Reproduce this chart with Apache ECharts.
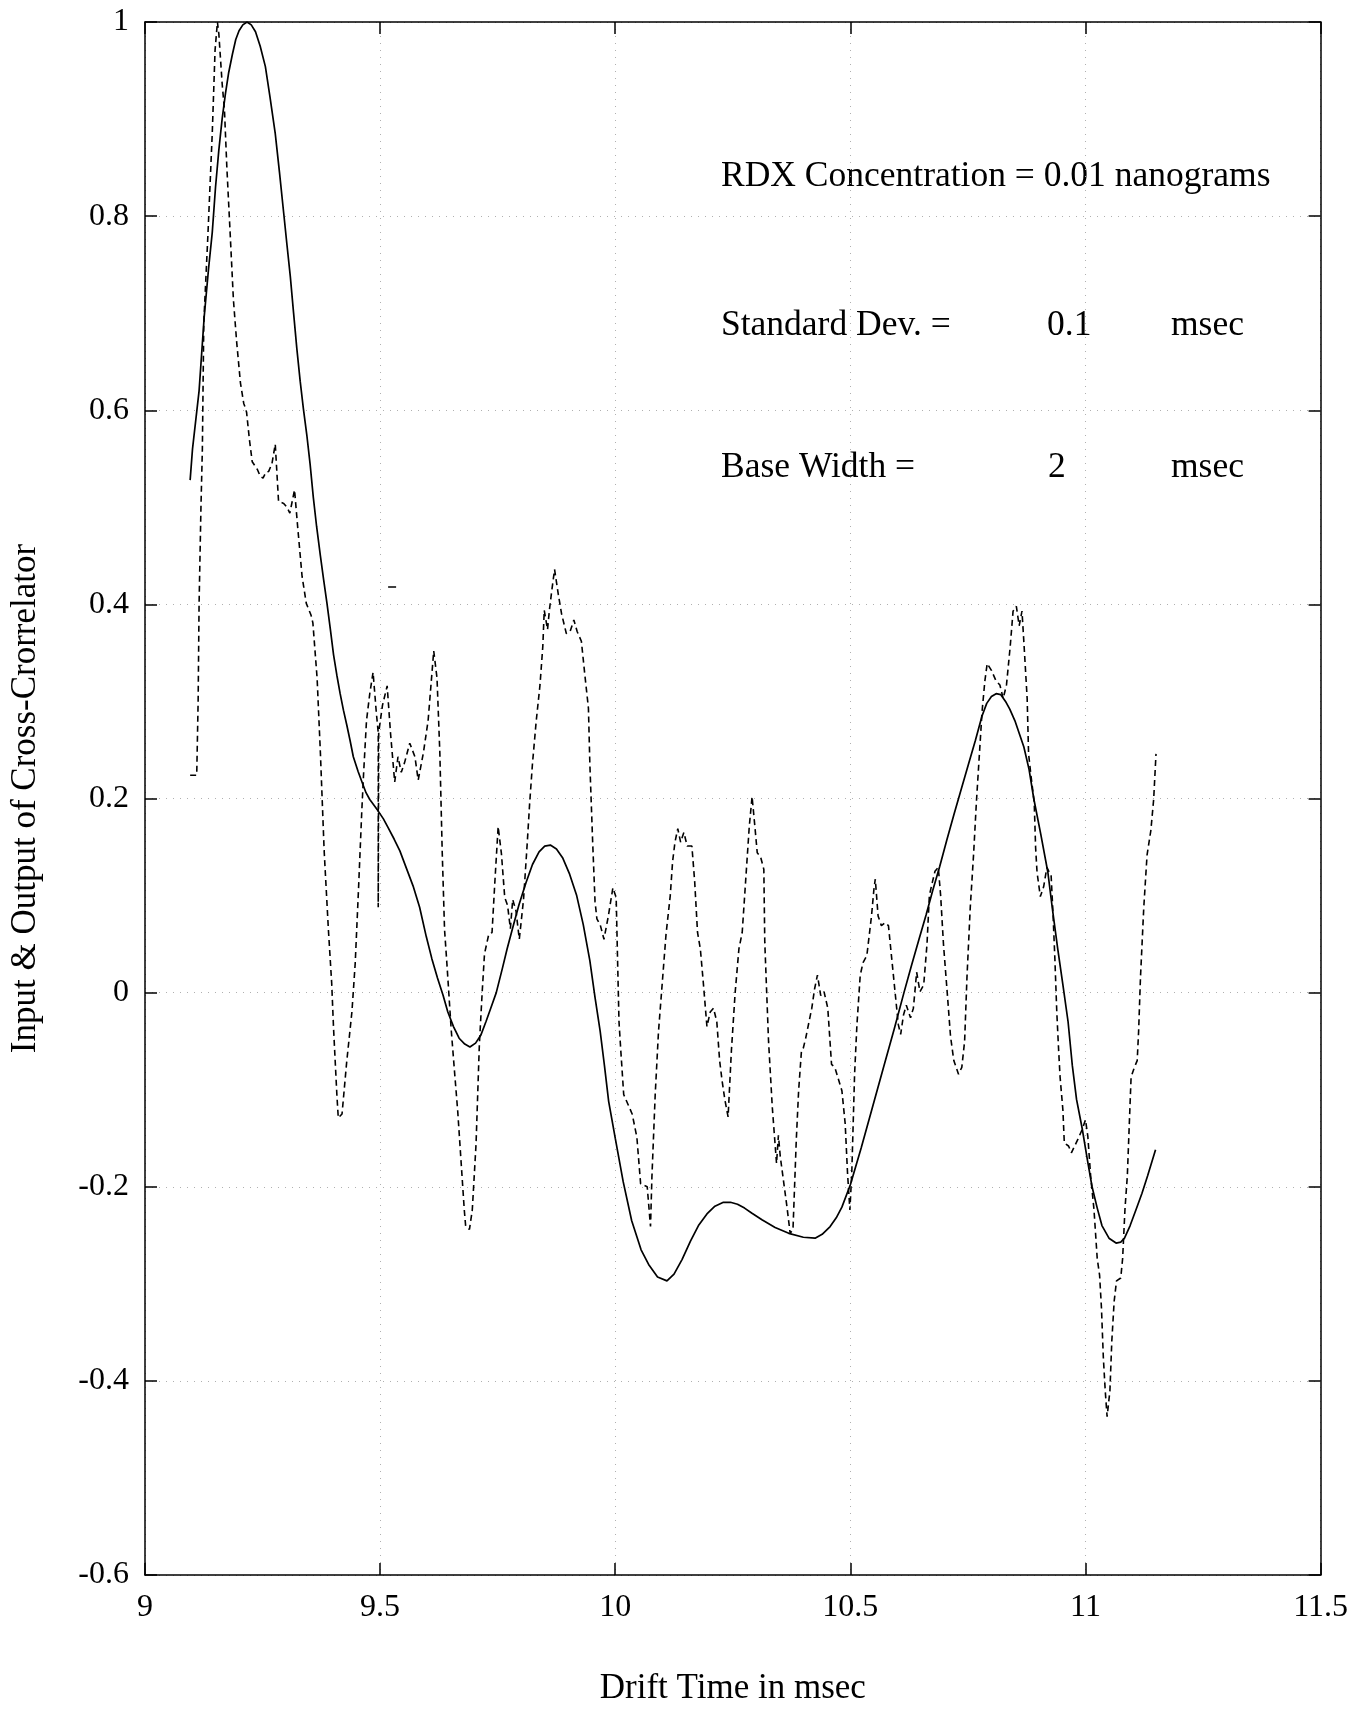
<!DOCTYPE html>
<html>
<head>
<meta charset="utf-8">
<script src="https://cdn.jsdelivr.net/npm/echarts@6/dist/echarts.min.js"></script>
<style>
html,body{margin:0;padding:0;background:#fff;}
#chart{width:1351px;height:1711px;}
</style>
</head>
<body>
<div id="chart"></div>
<script>
// ---- Data ----
const xTickLabels = ['9', '9.5', '10', '10.5', '11', '11.5'];
const yTickLabels = ['-0.6', '-0.4', '-0.2', '0', '0.2', '0.4', '0.6', '0.8', '1'];

// Output of cross-correlator (solid line): [drift time msec, value]
const outputSolid = [
[9.096,0.528],[9.101,0.56],[9.115,0.62],[9.126,0.697],[9.135,0.745],[9.143,0.783],[9.15,0.83],[9.157,0.868],
[9.164,0.9],[9.171,0.926],[9.178,0.948],[9.186,0.967],[9.193,0.982],[9.2,0.991],[9.208,0.997],[9.217,1.0],
[9.226,0.997],[9.235,0.99],[9.245,0.975],[9.256,0.954],[9.266,0.922],[9.277,0.885],[9.286,0.845],[9.295,0.803],
[9.302,0.77],[9.309,0.738],[9.316,0.70],[9.323,0.663],[9.33,0.63],[9.337,0.601],[9.344,0.575],[9.351,0.545],
[9.358,0.51],[9.365,0.48],[9.373,0.45],[9.38,0.425],[9.387,0.401],[9.394,0.375],[9.401,0.348],[9.408,0.327],
[9.415,0.308],[9.422,0.291],[9.429,0.276],[9.436,0.26],[9.443,0.243],[9.453,0.228],[9.463,0.215],[9.47,0.206],
[9.478,0.199],[9.487,0.193],[9.496,0.187],[9.507,0.179],[9.517,0.17],[9.53,0.158],[9.542,0.146],[9.556,0.128],
[9.57,0.11],[9.584,0.088],[9.598,0.058],[9.61,0.035],[9.622,0.015],[9.634,-0.003],[9.644,-0.02],[9.656,-0.035],
[9.668,-0.047],[9.68,-0.053],[9.691,-0.056],[9.703,-0.052],[9.714,-0.044],[9.725,-0.03],[9.736,-0.015],[9.747,0.0],
[9.76,0.025],[9.77,0.045],[9.781,0.065],[9.795,0.09],[9.81,0.113],[9.824,0.132],[9.838,0.145],[9.85,0.151],
[9.862,0.152],[9.875,0.148],[9.888,0.139],[9.903,0.122],[9.918,0.1],[9.932,0.07],[9.946,0.033],[9.957,-0.005],
[9.968,-0.04],[9.977,-0.075],[9.986,-0.112],[10.0,-0.15],[10.017,-0.195],[10.035,-0.235],[10.055,-0.265],
[10.071,-0.28],[10.09,-0.293],[10.11,-0.297],[10.125,-0.29],[10.142,-0.275],[10.16,-0.256],[10.177,-0.24],
[10.195,-0.228],[10.212,-0.22],[10.23,-0.216],[10.245,-0.216],[10.26,-0.218],[10.275,-0.222],[10.29,-0.227],
[10.312,-0.234],[10.34,-0.242],[10.369,-0.248],[10.4,-0.252],[10.425,-0.253],[10.44,-0.249],[10.457,-0.241],
[10.47,-0.232],[10.482,-0.221],[10.5,-0.198],[10.523,-0.16],[10.546,-0.12],[10.57,-0.078],[10.593,-0.038],
[10.614,0.0],[10.63,0.028],[10.646,0.055],[10.661,0.08],[10.675,0.105],[10.69,0.13],[10.705,0.157],[10.72,0.183],
[10.733,0.205],[10.751,0.235],[10.766,0.26],[10.78,0.285],[10.79,0.298],[10.8,0.305],[10.81,0.308],[10.82,0.307],
[10.83,0.3],[10.839,0.292],[10.85,0.28],[10.869,0.253],[10.88,0.23],[10.89,0.2],[10.905,0.163],[10.92,0.124],
[10.93,0.085],[10.941,0.045],[10.952,0.008],[10.963,-0.03],[10.972,-0.075],[10.981,-0.11],[10.993,-0.14],
[11.004,-0.172],[11.014,-0.2],[11.025,-0.222],[11.035,-0.24],[11.05,-0.253],[11.065,-0.258],[11.075,-0.257],
[11.083,-0.253],[11.095,-0.24],[11.108,-0.223],[11.12,-0.207],[11.132,-0.189],[11.149,-0.162]
];

// Input signal (dashed line): [drift time msec, value]
const inputDashed = [
[9.096,0.224],[9.110,0.224],[9.113,0.30],[9.115,0.40],[9.119,0.50],[9.122,0.56],[9.125,0.69],[9.134,0.783],
[9.143,0.885],[9.149,0.971],[9.154,1.0],[9.157,0.988],[9.164,0.937],[9.169,0.909],[9.174,0.851],[9.181,0.783],
[9.188,0.714],[9.195,0.67],[9.203,0.628],[9.210,0.607],[9.213,0.603],[9.216,0.598],[9.222,0.57],[9.228,0.547],
[9.239,0.539],[9.245,0.532],[9.251,0.530],[9.257,0.536],[9.263,0.537],[9.270,0.545],[9.277,0.565],[9.284,0.506],
[9.295,0.504],[9.302,0.50],[9.308,0.494],[9.318,0.518],[9.325,0.478],[9.334,0.429],[9.343,0.401],[9.353,0.389],
[9.357,0.381],[9.366,0.324],[9.373,0.247],[9.381,0.146],[9.39,0.065],[9.397,0.01],[9.401,-0.037],[9.408,-0.105],
[9.411,-0.129],[9.419,-0.125],[9.429,-0.071],[9.44,-0.02],[9.447,0.03],[9.454,0.106],[9.461,0.187],[9.465,0.227],
[9.471,0.28],[9.478,0.308],[9.485,0.33],[9.492,0.288],[9.496,0.268],[9.496,0.088],[9.497,0.268],[9.505,0.296],
[9.515,0.316],[9.522,0.268],[9.531,0.217],[9.538,0.243],[9.545,0.227],[9.552,0.237],[9.563,0.257],[9.574,0.243],
[9.581,0.219],[9.592,0.247],[9.602,0.28],[9.614,0.352],[9.621,0.324],[9.627,0.247],[9.632,0.146],[9.637,0.065],
[9.642,0.03],[9.651,-0.037],[9.658,-0.08],[9.665,-0.122],[9.672,-0.173],[9.679,-0.224],[9.682,-0.241],[9.69,-0.244],
[9.696,-0.224],[9.704,-0.156],[9.711,-0.054],[9.717,0.0],[9.722,0.04],[9.731,0.06],[9.738,0.062],[9.744,0.114],
[9.751,0.171],[9.758,0.143],[9.765,0.098],[9.771,0.09],[9.777,0.066],[9.782,0.096],[9.789,0.084],[9.796,0.055],
[9.805,0.096],[9.813,0.155],[9.818,0.195],[9.824,0.236],[9.832,0.28],[9.84,0.317],[9.846,0.357],[9.849,0.394],
[9.856,0.374],[9.86,0.394],[9.865,0.414],[9.871,0.436],[9.879,0.41],[9.886,0.39],[9.896,0.37],[9.904,0.372],
[9.912,0.384],[9.919,0.372],[9.928,0.362],[9.935,0.329],[9.943,0.293],[9.946,0.236],[9.952,0.155],[9.957,0.094],
[9.961,0.076],[9.968,0.07],[9.976,0.055],[9.985,0.078],[9.995,0.108],[10.002,0.098],[10.005,0.033],[10.008,-0.03],
[10.012,-0.061],[10.018,-0.105],[10.022,-0.107],[10.036,-0.125],[10.046,-0.149],[10.054,-0.197],[10.068,-0.2],
[10.075,-0.241],[10.078,-0.19],[10.085,-0.105],[10.092,-0.04],[10.1,0.01],[10.108,0.06],[10.117,0.1],[10.122,0.135],
[10.127,0.155],[10.133,0.169],[10.139,0.155],[10.146,0.165],[10.153,0.151],[10.163,0.151],[10.169,0.114],
[10.175,0.062],[10.181,0.045],[10.187,0.012],[10.195,-0.035],[10.202,-0.02],[10.209,-0.016],[10.216,-0.03],
[10.222,-0.07],[10.227,-0.09],[10.233,-0.11],[10.24,-0.128],[10.247,-0.06],[10.255,0.0],[10.263,0.045],[10.27,0.062],
[10.278,0.12],[10.285,0.171],[10.291,0.202],[10.297,0.171],[10.302,0.144],[10.309,0.14],[10.316,0.127],[10.318,0.052],
[10.326,-0.05],[10.334,-0.118],[10.343,-0.176],[10.347,-0.147],[10.351,-0.169],[10.365,-0.22],[10.372,-0.248],
[10.378,-0.244],[10.385,-0.152],[10.39,-0.101],[10.396,-0.06],[10.4,-0.057],[10.405,-0.047],[10.418,-0.016],
[10.424,0.004],[10.43,0.018],[10.437,-0.003],[10.444,0.001],[10.452,-0.016],[10.46,-0.074],[10.467,-0.077],
[10.482,-0.101],[10.489,-0.135],[10.494,-0.186],[10.499,-0.224],[10.503,-0.186],[10.509,-0.084],[10.514,-0.033],
[10.521,0.018],[10.527,0.031],[10.535,0.038],[10.545,0.079],[10.55,0.106],[10.553,0.117],[10.559,0.079],
[10.566,0.069],[10.574,0.072],[10.581,0.069],[10.588,0.035],[10.595,0.001],[10.602,-0.033],[10.607,-0.043],
[10.613,-0.023],[10.619,-0.013],[10.628,-0.026],[10.634,-0.016],[10.641,0.021],[10.648,0.001],[10.656,0.008],
[10.663,0.05],[10.668,0.1],[10.675,0.115],[10.68,0.125],[10.687,0.129],[10.692,0.1],[10.698,0.05],[10.706,0.0],
[10.713,-0.045],[10.72,-0.07],[10.73,-0.084],[10.737,-0.077],[10.743,-0.05],[10.748,0.016],[10.755,0.088],
[10.762,0.142],[10.768,0.196],[10.775,0.25],[10.78,0.289],[10.786,0.321],[10.791,0.339],[10.8,0.332],[10.81,0.321],
[10.818,0.317],[10.825,0.303],[10.832,0.317],[10.84,0.357],[10.846,0.393],[10.853,0.398],[10.859,0.378],
[10.865,0.393],[10.869,0.361],[10.876,0.303],[10.879,0.246],[10.884,0.224],[10.891,0.196],[10.894,0.149],
[10.897,0.124],[10.904,0.099],[10.911,0.109],[10.918,0.129],[10.927,0.12],[10.931,0.081],[10.935,0.034],
[10.939,-0.02],[10.943,-0.06],[10.946,-0.087],[10.952,-0.121],[10.955,-0.155],[10.964,-0.158],[10.97,-0.165],
[10.977,-0.158],[10.984,-0.151],[10.993,-0.141],[11.0,-0.131],[11.005,-0.148],[11.011,-0.189],[11.018,-0.223],
[11.025,-0.274],[11.03,-0.291],[11.034,-0.325],[11.038,-0.376],[11.042,-0.41],[11.046,-0.437],[11.052,-0.41],
[11.056,-0.359],[11.061,-0.318],[11.066,-0.297],[11.075,-0.294],[11.079,-0.274],[11.084,-0.223],[11.089,-0.189],
[11.093,-0.138],[11.097,-0.087],[11.104,-0.077],[11.11,-0.07],[11.113,-0.04],[11.117,0.016],[11.124,0.088],
[11.131,0.142],[11.139,0.167],[11.145,0.199],[11.15,0.246]
];

// small isolated stroke near x=9.52
const strayMark = [[9.517,0.418],[9.534,0.418]];

const annotations = [
  ['RDX Concentration = 0.01 nanograms'],
  ['Standard Dev. =', '0.1', 'msec'],
  ['Base Width =', '2', 'msec']
];

// ---- Chart ----
const FONT = '"Liberation Serif", "Times New Roman", serif';
const chart = echarts.init(document.getElementById('chart'), null, {renderer: 'canvas'});

function pickLabel(labels, min, step) {
  return function (v) {
    const i = Math.round((v - min) / step);
    return labels[i] !== undefined ? labels[i] : '';
  };
}

const axisLineStyle = {color: '#000', width: 1.5};
const gridLineStyle = {color: '#b0b0b0', width: 1, type: [1, 6]};

const option = {
  backgroundColor: '#fff',
  animation: false,
  grid: {left: 144, right: 26, top: 22, bottom: 123, containLabel: false},
  xAxis: [
    {
      type: 'value', min: 9, max: 11.5, interval: 0.5, position: 'bottom',
      axisLine: {show: true, onZero: false, lineStyle: axisLineStyle},
      axisTick: {show: true, inside: true, length: 12, lineStyle: axisLineStyle},
      axisLabel: {show: true, margin: 17, color: '#000', fontFamily: FONT, fontSize: 32,
                  formatter: pickLabel(xTickLabels, 9, 0.5)},
      splitLine: {show: true, lineStyle: gridLineStyle},
      name: 'Drift Time in msec', nameLocation: 'middle', nameGap: 96,
      nameTextStyle: {color: '#000', fontFamily: FONT, fontSize: 35}
    },
    {
      type: 'value', min: 9, max: 11.5, interval: 0.5, position: 'top',
      axisLine: {show: true, onZero: false, lineStyle: axisLineStyle},
      axisTick: {show: true, inside: true, length: 12, lineStyle: axisLineStyle},
      axisLabel: {show: false}, splitLine: {show: false}
    }
  ],
  yAxis: [
    {
      type: 'value', min: -0.6, max: 1, interval: 0.2, position: 'left',
      axisLine: {show: true, onZero: false, lineStyle: axisLineStyle},
      axisTick: {show: true, inside: true, length: 12, lineStyle: axisLineStyle},
      axisLabel: {show: true, margin: 16, color: '#000', fontFamily: FONT, fontSize: 32,
                  formatter: pickLabel(yTickLabels, -0.6, 0.2)},
      splitLine: {show: true, lineStyle: gridLineStyle},
      name: 'Input & Output of Cross-Crorrelator', nameLocation: 'middle', nameGap: 102,
      nameTextStyle: {color: '#000', fontFamily: FONT, fontSize: 35}
    },
    {
      type: 'value', min: -0.6, max: 1, interval: 0.2, position: 'right',
      axisLine: {show: true, onZero: false, lineStyle: axisLineStyle},
      axisTick: {show: true, inside: true, length: 12, lineStyle: axisLineStyle},
      axisLabel: {show: false}, splitLine: {show: false}
    }
  ],
  series: [
    {
      name: 'Output', type: 'line', xAxisIndex: 0, yAxisIndex: 0,
      data: outputSolid, showSymbol: false, symbol: 'none', smooth: false,
      lineStyle: {color: '#000', width: 1.7, type: 'solid'}
    },
    {
      name: 'Input', type: 'line', xAxisIndex: 0, yAxisIndex: 0,
      data: inputDashed, showSymbol: false, symbol: 'none', smooth: false,
      lineStyle: {color: '#000', width: 1.6, type: [6, 4]}
    },
    {
      name: 'mark', type: 'line', xAxisIndex: 0, yAxisIndex: 0,
      data: strayMark, showSymbol: false, symbol: 'none',
      lineStyle: {color: '#000', width: 1.5}
    }
  ],
  graphic: [
    {type: 'text', x: 721, y: 177, style: {text: annotations[0][0], font: '35.5px ' + FONT, fill: '#000', verticalAlign: 'middle'}},
    {type: 'text', x: 721, y: 326, style: {text: annotations[1][0], font: '35.5px ' + FONT, fill: '#000', verticalAlign: 'middle'}},
    {type: 'text', x: 1047, y: 326, style: {text: annotations[1][1], font: '35.5px ' + FONT, fill: '#000', verticalAlign: 'middle'}},
    {type: 'text', x: 1171, y: 326, style: {text: annotations[1][2], font: '35.5px ' + FONT, fill: '#000', verticalAlign: 'middle'}},
    {type: 'text', x: 721, y: 468, style: {text: annotations[2][0], font: '35.5px ' + FONT, fill: '#000', verticalAlign: 'middle'}},
    {type: 'text', x: 1048, y: 468, style: {text: annotations[2][1], font: '35.5px ' + FONT, fill: '#000', verticalAlign: 'middle'}},
    {type: 'text', x: 1171, y: 468, style: {text: annotations[2][2], font: '35.5px ' + FONT, fill: '#000', verticalAlign: 'middle'}}
  ]
};
chart.setOption(option);
</script>
</body>
</html>
